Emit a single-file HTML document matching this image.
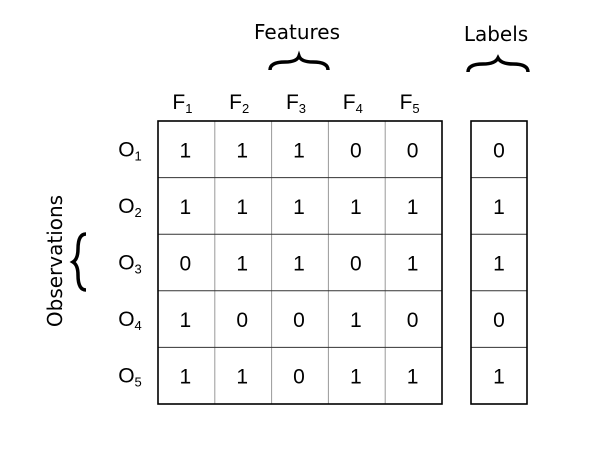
<!DOCTYPE html>
<html><head><meta charset="utf-8"><style>
body{margin:0;background:#fff}
svg{display:block;font-family:"DejaVu Sans","Liberation Sans",sans-serif}
.a{font-family:"Liberation Sans",sans-serif}
</style></head><body>
<svg id="c" width="599" height="455">
<text x="297" y="39" font-size="20" text-anchor="middle">Features</text>
<text x="496" y="41" font-size="20" text-anchor="middle">Labels</text>
<text transform="translate(62,261) rotate(-90)" font-size="20" text-anchor="middle">Observations</text>
<path d="M270,70 Q270,62 285,62 Q297,62 299,56 Q301,62 313,62 Q328,62 328,70" fill="none" stroke="#000" stroke-width="3.5"/>
<path d="M468,72 Q468,64 483,64 Q495,64 498,58 Q501,64 513,64 Q528,64 528,72" fill="none" stroke="#000" stroke-width="3.5"/>
<path d="M86,234 Q78,234 78,249 Q78,259 73,262 Q78,265 78,275 Q78,290 86,290" fill="none" stroke="#000" stroke-width="3.5"/>
<g id="g" class="a"></g>
</svg>
<script>
const features=["1","2","3","4","5"];
const observations=["1","2","3","4","5"];
const matrix=[[1,1,1,0,0],[1,1,1,1,1],[0,1,1,0,1],[1,0,0,1,0],[1,1,0,1,1]];
const labels=[0,1,1,0,1];
const NS="http://www.w3.org/2000/svg",g=document.getElementById('g');
const X0=158,Y0=121,CW=56.8,RH=56.6,LX=471,LW=56;
const cx=i=>X0+i*CW, ry=j=>Y0+j*RH;
function mk(t,a,p){const e=document.createElementNS(NS,t);for(const k in a)e.setAttribute(k,a[k]);(p||g).appendChild(e);return e;}
for(let i=1;i<features.length;i++){const l=mk('line',{x1:cx(i),x2:cx(i),y1:ry(0),y2:ry(5),stroke:'#999','stroke-width':1});

}
for(let j=1;j<observations.length;j++){const l=mk('line',{x1:cx(0),x2:cx(5),y1:ry(j),y2:ry(j),stroke:'#333','stroke-width':1});


const m=mk('line',{x1:LX,x2:LX+LW,y1:ry(j),y2:ry(j),stroke:'#333','stroke-width':1});

}
const b=mk('rect',{x:cx(0),y:ry(0),width:5*CW,height:5*RH,fill:'none',stroke:'#000','stroke-width':1.6});


const lb=mk('rect',{x:LX,y:ry(0),width:LW,height:5*RH,fill:'none',stroke:'#000','stroke-width':1.6});


features.forEach((f,i)=>{const t=mk('text',{x:cx(i)+CW/2-4,y:109,'font-size':21,'text-anchor':'middle'});


t.innerHTML='F<tspan font-size="13" dy="4">'+f+'</tspan>';});
observations.forEach((o,j)=>{const t=mk('text',{x:130,y:ry(j)+RH/2+7,'font-size':21,'text-anchor':'middle'});


t.innerHTML='O<tspan font-size="13" dy="4">'+o+'</tspan>';});
matrix.forEach((row,j)=>row.forEach((v,i)=>{const t=mk('text',{x:cx(i)+CW/2-1,y:ry(j)+RH/2+8,'font-size':21,'text-anchor':'middle'});


t.textContent=v;}));
labels.forEach((v,j)=>{const t=mk('text',{x:LX+LW/2,y:ry(j)+RH/2+8,'font-size':21,'text-anchor':'middle'});


t.textContent=v;});
</script>
</body></html>
